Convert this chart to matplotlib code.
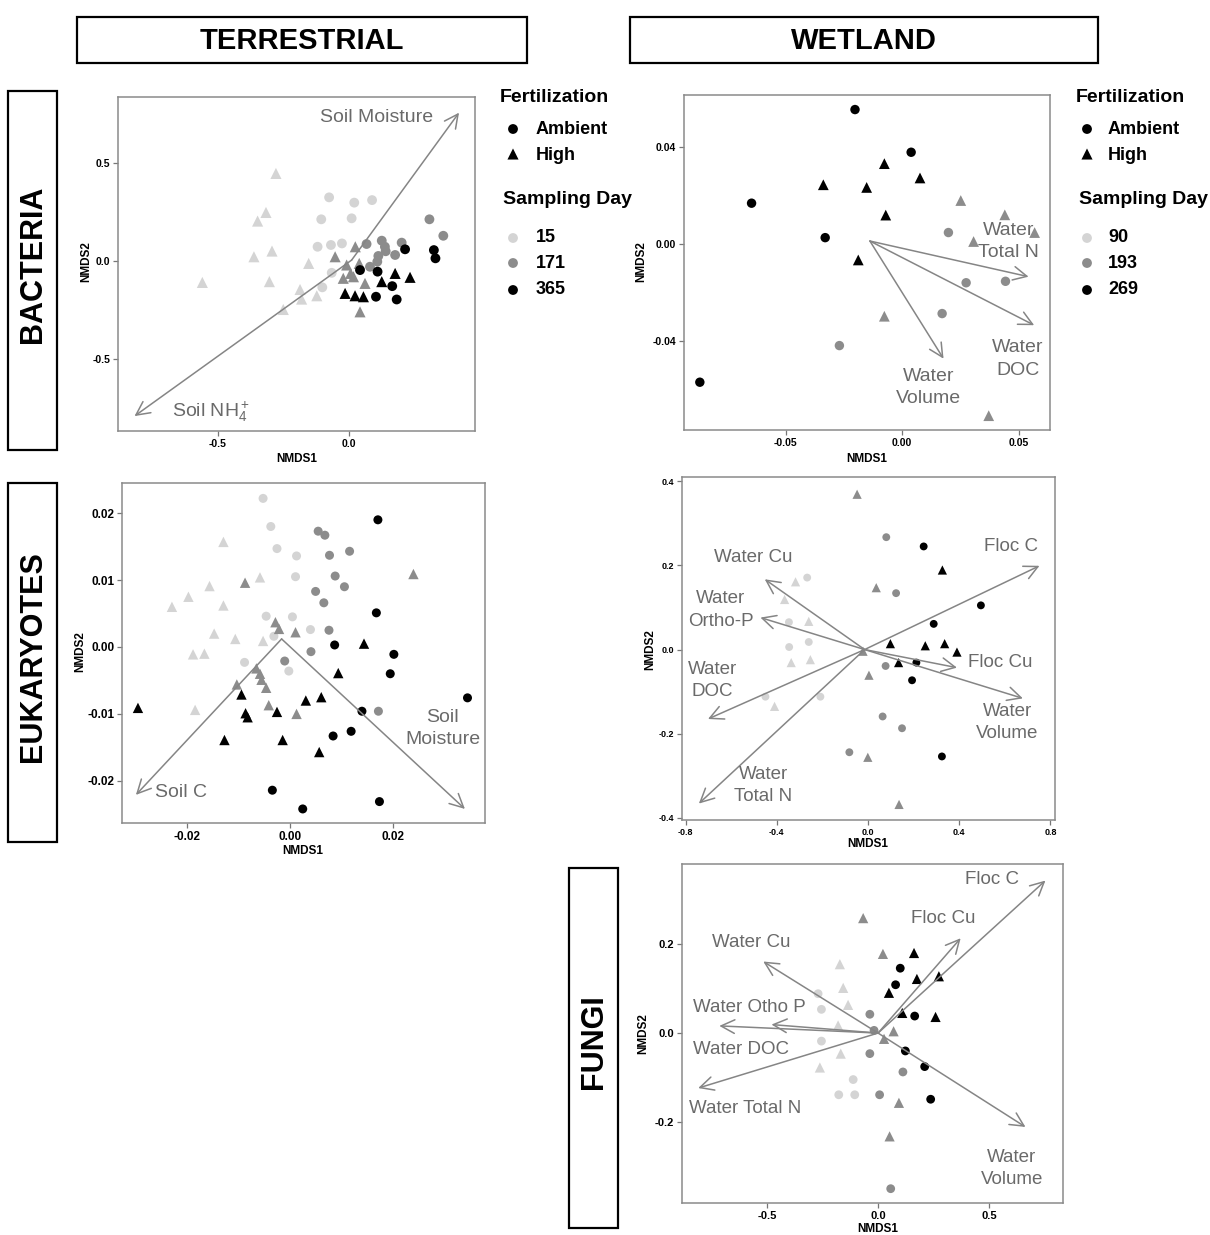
import matplotlib
matplotlib.use('Agg')
import matplotlib.pyplot as plt
from matplotlib.patches import Rectangle

plt.rcParams['font.family'] = ['Liberation Sans', 'DejaVu Sans']
plt.rcParams['mathtext.fontset'] = 'custom'
plt.rcParams['mathtext.rm'] = 'Liberation Sans'
plt.rcParams['mathtext.it'] = 'Liberation Sans:italic'
plt.rcParams['mathtext.bf'] = 'Liberation Sans:bold'

W, H = 1210, 1235

# ---------------- DATA ----------------
# Bacteria, terrestrial (days 15, 171, 365)
bac_ter_x = [-0.279, -0.317, -0.349, -0.294, -0.363, -0.560, -0.304, -0.154, -0.187, -0.181, -0.123, -0.251,
             -0.076, 0.020, 0.088, -0.106, 0.010, -0.120, -0.069, -0.027, -0.066, -0.102,
             -0.053, 0.024, -0.009, 0.039, 0.006, -0.022, 0.017, 0.061, 0.042,
             0.067, 0.125, 0.137, 0.201, 0.176, 0.112, 0.108, 0.080, 0.307, 0.360, 0.140,
             0.042, 0.214, 0.324, 0.330, 0.109, 0.165, 0.103, 0.182,
             0.176, 0.233, 0.125, -0.015, 0.023, 0.055]
bac_ter_y = [0.447, 0.248, 0.204, 0.051, 0.022, -0.109, -0.105, -0.012, -0.145, -0.194, -0.177, -0.247,
             0.325, 0.298, 0.311, 0.213, 0.218, 0.073, 0.082, 0.090, -0.060, -0.134,
             0.022, 0.073, -0.020, -0.012, -0.063, -0.088, -0.080, -0.114, -0.259,
             0.087, 0.104, 0.073, 0.094, 0.031, 0.026, -0.003, -0.029, 0.213, 0.129, 0.050,
             -0.046, 0.060, 0.056, 0.014, -0.054, -0.128, -0.182, -0.196,
             -0.063, -0.083, -0.105, -0.165, -0.177, -0.182]
bac_ter_day = [15] * 12 + [15] * 10 + [171] * 9 + [171] * 11 + [365] * 8 + [365] * 6
bac_ter_fert = ['High'] * 12 + ['Ambient'] * 10 + ['High'] * 9 + ['Ambient'] * 11 + ['Ambient'] * 8 + ['High'] * 6
bac_ter_vec_names = ['Soil Moisture', 'Soil NH4+']
bac_ter_vec_x = [0.420, -0.819]
bac_ter_vec_y = [0.757, -0.791]

# Bacteria, wetland (days 90, 193, 269)
bac_wet_x = [-0.0202, 0.0039, -0.0646, -0.0330, -0.0868,
             -0.0076, -0.0338, -0.0152, 0.0077, -0.0070, -0.0188,
             0.0252, 0.0441, 0.0569, 0.0307, -0.0076, 0.0372,
             0.0199, 0.0275, 0.0444, 0.0172, -0.0269]
bac_wet_y = [0.0554, 0.0378, 0.0168, 0.0026, -0.0570,
             0.0331, 0.0244, 0.0233, 0.0272, 0.0119, -0.0066,
             0.0179, 0.0120, 0.0047, 0.0010, -0.0298, -0.0708,
             0.0047, -0.0160, -0.0154, -0.0287, -0.0419]
bac_wet_day = [269] * 5 + [269] * 6 + [193] * 6 + [193] * 5
bac_wet_fert = ['Ambient'] * 5 + ['High'] * 6 + ['High'] * 6 + ['Ambient'] * 5
bac_wet_vec_names = ['Water\nTotal N', 'Water\nDOC', 'Water\nVolume']
bac_wet_vec_x = [0.0543, 0.0567, 0.0178]
bac_wet_vec_y = [-0.0135, -0.0335, -0.0473]

# Eukaryotes, terrestrial (days 15, 171, 365)
euk_ter_x = [-0.0052, -0.0037, -0.0025, 0.0013, 0.0011, -0.0046, 0.0005, 0.0040, -0.0031, -0.0088, -0.0002,
             -0.0129, -0.0058, -0.0156, -0.0197, -0.0229, -0.0129, -0.0147, -0.0106, -0.0052, -0.0188, -0.0166, -0.0184,
             0.0055, 0.0068, 0.0077, 0.0116, 0.0088, 0.0106, 0.0050, 0.0066, 0.0076, 0.0041, -0.0010, 0.0172,
             -0.0087, 0.0240, -0.0028, -0.0021, 0.0011, -0.0065, -0.0058, -0.0055, -0.0046, -0.0103, -0.0041, 0.0013,
             0.0171, 0.0168, 0.0087, 0.0202, 0.0195, 0.0345, 0.0140, 0.0119, 0.0084, -0.0034, 0.0025, 0.0174,
             -0.0295, 0.0144, 0.0094, -0.0094, 0.0031, 0.0061, -0.0086, -0.0082, -0.0025, -0.0127, -0.0014, 0.0057]
euk_ter_y = [0.0222, 0.0180, 0.0147, 0.0136, 0.0105, 0.0046, 0.0045, 0.0026, 0.0016, -0.0023, -0.0036,
             0.0157, 0.0104, 0.0091, 0.0075, 0.0060, 0.0062, 0.0020, 0.0012, 0.0009, -0.0011, -0.0010, -0.0094,
             0.0173, 0.0167, 0.0137, 0.0143, 0.0106, 0.0090, 0.0083, 0.0066, 0.0025, -0.0007, -0.0021, -0.0096,
             0.0096, 0.0109, 0.0037, 0.0027, 0.0022, -0.0032, -0.0040, -0.0049, -0.0061, -0.0056, -0.0087, -0.0100,
             0.0190, 0.0051, 0.0003, -0.0011, -0.0040, -0.0076, -0.0096, -0.0126, -0.0133, -0.0214, -0.0242, -0.0231,
             -0.0091, 0.0005, -0.0039, -0.0071, -0.0080, -0.0075, -0.0099, -0.0105, -0.0097, -0.0139, -0.0139, -0.0157]
euk_ter_day = [15] * 11 + [15] * 12 + [171] * 12 + [171] * 12 + [365] * 12 + [365] * 12
euk_ter_fert = ['Ambient'] * 11 + ['High'] * 12 + ['Ambient'] * 12 + ['High'] * 12 + ['Ambient'] * 12 + ['High'] * 12
euk_ter_vec_names = ['Soil C', 'Soil\nMoisture']
euk_ter_vec_x = [-0.0299, 0.0340]
euk_ter_vec_y = [-0.0221, -0.0242]

# Eukaryotes, wetland (days 90, 193, 269)
euk_wet_x = [-0.318, -0.366, -0.260, -0.337, -0.253, -0.410,
             -0.267, -0.347, -0.260, -0.346, -0.450, -0.209,
             -0.048, 0.036, -0.022, 0.004, -0.001, 0.136,
             0.080, 0.123, 0.077, 0.064, 0.149, -0.082,
             0.244, 0.495, 0.288, 0.212, 0.193, 0.324,
             0.326, 0.098, 0.251, 0.336, 0.390, 0.134]
euk_wet_y = [0.161, 0.119, 0.067, -0.031, -0.024, -0.135,
             0.171, 0.065, 0.018, 0.006, -0.112, -0.112,
             0.369, 0.147, -0.004, -0.061, -0.256, -0.368,
             0.267, 0.134, -0.039, -0.159, -0.187, -0.244,
             0.245, 0.105, 0.061, -0.031, -0.073, -0.254,
             0.189, 0.014, 0.009, 0.014, -0.006, -0.031]
euk_wet_day = [90] * 12 + [193] * 12 + [269] * 12
euk_wet_fert = (['High'] * 6 + ['Ambient'] * 6) * 2 + ['Ambient'] * 6 + ['High'] * 6
euk_wet_vec_names = ['Water Cu', 'Water\nOrtho-P', 'Water\nDOC', 'Water\nTotal N', 'Floc C', 'Floc Cu', 'Water\nVolume']
euk_wet_vec_x = [-0.453, -0.472, -0.702, -0.742, 0.752, 0.390, 0.679]
euk_wet_vec_y = [0.167, 0.076, -0.165, -0.366, 0.199, -0.043, -0.116]

# Fungi, wetland (days 90, 193, 269)
fun_wet_x = [-0.172, -0.157, -0.135, -0.180, -0.168, -0.262,
             -0.270, -0.255, -0.255, -0.112, -0.177, -0.105,
             -0.067, 0.022, 0.070, 0.027, 0.094, 0.052,
             -0.037, -0.018, -0.037, 0.112, 0.007, 0.057,
             0.162, 0.175, 0.274, 0.049, 0.109, 0.259,
             0.100, 0.079, 0.165, 0.123, 0.210, 0.237]
fun_wet_y = [0.154, 0.101, 0.063, 0.017, -0.046, -0.077,
             0.088, 0.053, -0.018, -0.104, -0.138, -0.138,
             0.257, 0.177, 0.004, -0.013, -0.156, -0.231,
             0.042, 0.006, -0.046, -0.087, -0.138, -0.348,
             0.179, 0.121, 0.127, 0.090, 0.045, 0.036,
             0.145, 0.108, 0.038, -0.040, -0.075, -0.148]
fun_wet_day = [90] * 12 + [193] * 12 + [269] * 12
fun_wet_fert = (['High'] * 6 + ['Ambient'] * 6) * 2 + ['High'] * 6 + ['Ambient'] * 6
fun_wet_vec_names = ['Floc C', 'Floc Cu', 'Water Cu', 'Water Otho P', 'Water DOC', 'Water Total N', 'Water\nVolume']
fun_wet_vec_x = [0.754, 0.372, -0.517, -0.715, -0.480, -0.810, 0.664]
fun_wet_vec_y = [0.341, 0.212, 0.160, 0.016, 0.019, -0.123, -0.210]

ter_days = [15, 171, 365]
wet_days = [90, 193, 269]

# ---------------- STYLE ----------------
DAY_COLORS = ['#d4d4d4', '#8c8c8c', '#000000']
VEC_COLOR = '#858585'
TXT_COLOR = '#6a6a6a'
FRAME = '#8a8a8a'

fig = plt.figure(figsize=(W / 100, H / 100), dpi=100)
fig.patch.set_facecolor('white')


def px_axes(l, t, r, b):
    return fig.add_axes([l / W, 1 - b / H, (r - l) / W, (b - t) / H])


def draw_panel(box, x, y, day, fert, days, xlim, ylim, xt, xtl, yt, ytl, tfs, s_c, s_t,
               origin, vx, vy, names, label_pos, label_ha, lfs):
    ax = px_axes(*box)
    for xi, yi, d, f in zip(x, y, day, fert):
        c = DAY_COLORS[days.index(d)]
        if f == 'Ambient':
            ax.scatter([xi], [yi], s=s_c, marker='o', color=c, edgecolors='none', zorder=3)
        else:
            ax.scatter([xi], [yi], s=s_t, marker='^', color=c, edgecolors='none', zorder=3)
    for ex, ey, nm, lp, ha in zip(vx, vy, names, label_pos, label_ha):
        ax.annotate('', xy=(ex, ey), xytext=origin,
                    arrowprops=dict(arrowstyle='->,head_length=0.7,head_width=0.35', color=VEC_COLOR,
                                    lw=1.1, shrinkA=0, shrinkB=0, mutation_scale=14), zorder=4)
        txt = nm.replace('NH4+', r'NH$_4^+$')
        ax.text(lp[0], lp[1], txt, ha=ha, va='center', multialignment='center',
                color=TXT_COLOR, fontsize=lfs, linespacing=1.4, zorder=5)
    ax.set_xlim(*xlim)
    ax.set_ylim(*ylim)
    ax.set_xticks(xt, xtl, fontweight='bold', fontsize=tfs)
    ax.set_yticks(yt, ytl, fontweight='bold', fontsize=tfs)
    ax.tick_params(length=3.5, width=0.9, color='#777777', pad=2)
    for sp in ax.spines.values():
        sp.set_color(FRAME)
        sp.set_linewidth(1.1)
    return ax


# Panel 1: Bacteria terrestrial
draw_panel((118, 97, 475, 431), bac_ter_x, bac_ter_y, bac_ter_day, bac_ter_fert, ter_days,
           (-0.882, 0.481), (-0.867, 0.837), [-0.5, 0.0], ['-0.5', '0.0'],
           [-0.5, 0.0, 0.5], ['-0.5', '0.0', '0.5'], 7.5, 50, 64,
           (0.01, 0.005), bac_ter_vec_x, bac_ter_vec_y, bac_ter_vec_names,
           [(0.106, 0.734), (-0.677, -0.769)], ['center', 'left'], 14)

# Panel 2: Bacteria wetland
draw_panel((684, 95, 1050, 430), bac_wet_x, bac_wet_y, bac_wet_day, bac_wet_fert, wet_days,
           (-0.0936, 0.0635), (-0.0767, 0.0614), [-0.05, 0.0, 0.05], ['-0.05', '0.00', '0.05'],
           [-0.04, 0.0, 0.04], ['-0.04', '0.00', '0.04'], 7.5, 46, 60,
           (-0.0138, 0.0012), bac_wet_vec_x, bac_wet_vec_y, bac_wet_vec_names,
           [(0.0457, 0.0011), (0.0496, -0.0474), (0.0113, -0.0593)], ['center'] * 3, 14)

# Panel 3: Eukaryotes terrestrial
draw_panel((122, 483, 485, 823), euk_ter_x, euk_ter_y, euk_ter_day, euk_ter_fert, ter_days,
           (-0.0326, 0.0379), (-0.0263, 0.0245), [-0.02, 0.0, 0.02], ['-0.02', '0.00', '0.02'],
           [-0.02, -0.01, 0.0, 0.01, 0.02], ['-0.02', '-0.01', '0.00', '0.01', '0.02'], 8.5, 42, 56,
           (-0.0016, 0.0012), euk_ter_vec_x, euk_ter_vec_y, euk_ter_vec_names,
           [(-0.0261, -0.0217), (0.0297, -0.0122)], ['left', 'center'], 14)

# Panel 4: Eukaryotes wetland
draw_panel((682, 477, 1055, 820), euk_wet_x, euk_wet_y, euk_wet_day, euk_wet_fert, wet_days,
           (-0.816, 0.820), (-0.405, 0.41), [-0.8, -0.4, 0.0, 0.4, 0.8], ['-0.8', '-0.4', '0.0', '0.4', '0.8'],
           [-0.4, -0.2, 0.0, 0.2, 0.4], ['-0.4', '-0.2', '0.0', '0.2', '0.4'], 6.5, 32, 44,
           (-0.015, 0.0), euk_wet_vec_x, euk_wet_vec_y, euk_wet_vec_names,
           [(-0.505, 0.219), (-0.645, 0.094), (-0.683, -0.073), (-0.460, -0.323),
            (0.628, 0.245), (0.580, -0.030), (0.610, -0.174)], ['center'] * 7, 13.5)

# Panel 5: Fungi wetland
draw_panel((682, 864, 1063, 1203), fun_wet_x, fun_wet_y, fun_wet_day, fun_wet_fert, wet_days,
           (-0.883, 0.833), (-0.380, 0.378), [-0.5, 0.0, 0.5], ['-0.5', '0.0', '0.5'],
           [-0.2, 0.0, 0.2], ['-0.2', '0.0', '0.2'], 8, 40, 54,
           (0.0, 0.0), fun_wet_vec_x, fun_wet_vec_y, fun_wet_vec_names,
           [(0.513, 0.344), (0.292, 0.256), (-0.570, 0.203), (-0.580, 0.058),
            (-0.618, -0.037), (-0.600, -0.169), (0.603, -0.303)], ['center'] * 7, 13.5)

# ---------------- OVERLAY (headers, labels, legends) ----------------
ov = fig.add_axes([0, 0, 1, 1], zorder=10)
ov.set_xlim(0, W)
ov.set_ylim(H, 0)
ov.axis('off')
ov.patch.set_alpha(0)

# column headers
for (l, t, r, b), txt in [((77, 17, 527, 63), 'TERRESTRIAL'), ((630, 17, 1098, 63), 'WETLAND')]:
    ov.add_patch(Rectangle((l, t), r - l, b - t, fill=False, ec='black', lw=1.6))
    ov.text((l + r) / 2, (t + b) / 2 + 1, txt, ha='center', va='center', fontsize=21, fontweight='bold')

# row headers
for (l, t, r, b), txt in [((8, 91, 57, 450), 'BACTERIA'), ((8, 483, 57, 842), 'EUKARYOTES'),
                          ((569, 868, 618, 1228), 'FUNGI')]:
    ov.add_patch(Rectangle((l, t), r - l, b - t, fill=False, ec='black', lw=1.6))
    ov.text((l + r) / 2 + 1, (t + b) / 2 - 6, txt, ha='center', va='center', rotation=90,
            fontsize=22, fontweight='bold')

# axis titles
for xx, yy in [(297, 459), (867, 459), (303, 851), (868, 844), (878, 1229)]:
    ov.text(xx, yy, 'NMDS1', ha='center', va='center', fontsize=8.5, fontweight='bold')
for xx, yy in [(86, 262), (641, 262), (80, 652), (650, 650), (643, 1034)]:
    ov.text(xx, yy, 'NMDS2', ha='center', va='center', rotation=90, fontsize=8.5, fontweight='bold')


# legends
def legend(x0, mx, tx, days):
    ov.text(x0, 97, 'Fertilization', ha='left', va='center', fontsize=14, fontweight='bold')
    ov.scatter([mx], [129], s=50, marker='o', color='black', edgecolors='none')
    ov.text(tx, 129, 'Ambient', ha='left', va='center', fontsize=13, fontweight='bold')
    ov.scatter([mx], [154], s=64, marker='^', color='black', edgecolors='none')
    ov.text(tx, 155, 'High', ha='left', va='center', fontsize=13, fontweight='bold')
    ov.text(x0 + 3, 199, 'Sampling Day', ha='left', va='center', fontsize=14, fontweight='bold')
    for d, c, yy in zip(days, DAY_COLORS, [238, 263, 290]):
        ov.scatter([mx], [yy], s=50, marker='o', color=c, edgecolors='none')
        ov.text(tx, yy, str(d), ha='left', va='center', fontsize=13, fontweight='bold')


legend(500, 513, 536, ter_days)
legend(1076, 1087, 1108, wet_days)

fig.savefig('out.png', dpi=100)
